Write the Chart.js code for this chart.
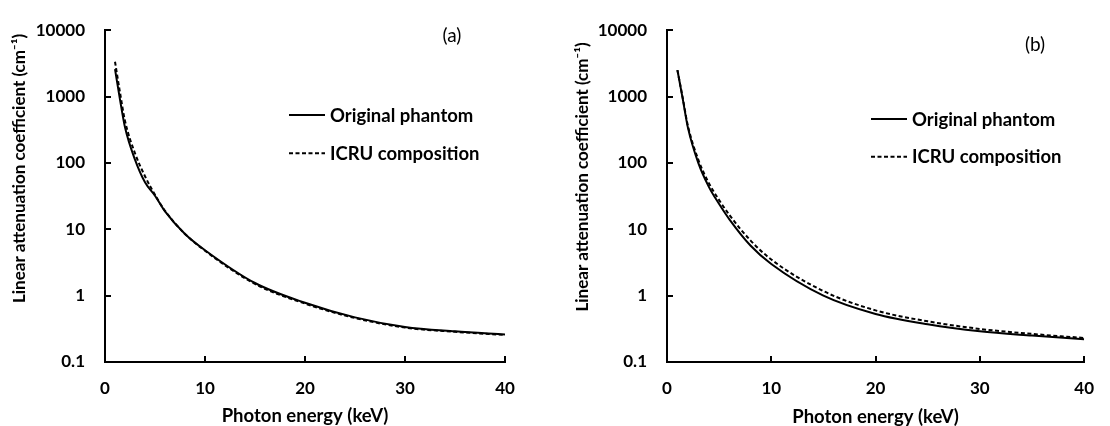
<!DOCTYPE html>
<html><head><meta charset="utf-8">
<script src="https://cdn.jsdelivr.net/npm/chart.js@4.4.1/dist/chart.umd.min.js"></script>
<style>
html,body{margin:0;padding:0;background:#fff;width:1110px;height:426px;overflow:hidden}
canvas{position:absolute;top:0}
#ca{left:0}
#cb{left:555px}
</style></head><body>
<canvas id="ca" width="555" height="426"></canvas>
<canvas id="cb" width="555" height="426"></canvas>
<script>
// ---- data ----
const energies   = [1, 1.5, 2, 3, 4, 5, 6, 8, 10, 15, 20, 25, 30, 35, 40];
const originalA  = [2590, 900, 344, 112, 51, 32, 18.6, 8.5, 4.84, 1.55, 0.78, 0.47, 0.337, 0.29, 0.26];
const icruA      = [3350, 1150, 430, 140, 63, 33, 19, 8.5, 4.75, 1.5, 0.76, 0.46, 0.33, 0.285, 0.255];
const originalB  = [2500, 940, 343, 100, 44, 24, 14, 5.7, 3.0, 1.0, 0.53, 0.37, 0.29, 0.25, 0.22];
const icruB      = [2500, 970, 365, 112, 50, 27.5, 16.3, 6.8, 3.5, 1.17, 0.6, 0.41, 0.315, 0.265, 0.23];
const yTicks     = [0.1, 1, 10, 100, 1000, 10000];
const xTicks     = [0, 10, 20, 30, 40];
const seriesNames = ['Original phantom', 'ICRU composition'];
const panelLabels = ['(a)', '(b)'];
const yTitle = 'Linear attenuation coefficient (cm\u207B\u00B9)';
const xTitle = 'Photon energy (keV)';

const FONT = 'Lato, "Open Sans", sans-serif';

const decor = {
  id: 'decor',
  afterDraw(chart, args, o) {
    const ctx = chart.ctx;
    const ca = chart.chartArea;
    const xs = chart.scales.x, ys = chart.scales.y;
    ctx.save();
    ctx.strokeStyle = '#000';
    ctx.lineWidth = 2;
    // inward tick marks
    ctx.beginPath();
    yTicks.forEach(v => {
      const py = Math.round(ys.getPixelForValue(v));
      ctx.moveTo(ca.left, py); ctx.lineTo(ca.left + 6, py);
    });
    xTicks.forEach(v => {
      const px = Math.round(xs.getPixelForValue(v));
      ctx.moveTo(px, ca.bottom); ctx.lineTo(px, ca.bottom - 6);
    });
    ctx.stroke();

    ctx.fillStyle = '#000';
    // y title
    ctx.font = 'bold 17px ' + FONT;
    ctx.save();
    ctx.translate(o.yTitleX, o.yTitleY);
    ctx.rotate(-Math.PI / 2);
    ctx.textAlign = 'center';
    ctx.textBaseline = 'middle';
    ctx.fillText(yTitle, 0, 0);
    ctx.restore();
    // x title
    ctx.font = 'bold 18.5px ' + FONT;
    ctx.textAlign = 'center';
    ctx.textBaseline = 'alphabetic';
    ctx.fillText(xTitle, (ca.left + ca.right) / 2, o.xTitleY);

    // legend
    const ds = chart.data.datasets;
    [o.legY1, o.legY2].forEach((ly, i) => {
      ctx.save();
      ctx.lineWidth = ds[i].borderWidth;
      ctx.setLineDash(ds[i].borderDash || []);
      ctx.beginPath();
      ctx.moveTo(o.legX0, ly); ctx.lineTo(o.legX1, ly);
      ctx.stroke();
      ctx.restore();
      ctx.textAlign = 'left';
      ctx.textBaseline = 'alphabetic';
      ctx.fillText(ds[i].label, o.legTextX, ly + 6.5);
    });

    // panel label
    ctx.font = '19px ' + FONT;
    ctx.textAlign = 'center';
    ctx.textBaseline = 'middle';
    ctx.fillText(o.label, o.labelX, o.labelY);
    ctx.restore();
  }
};

function makeChart(id, orig, icru, L) {
  const tickFont = {family: FONT, weight: 'bold', size: 17};
  return new Chart(document.getElementById(id), {
    type: 'line',
    data: {
      datasets: [
        {label: seriesNames[0], data: energies.map((e, i) => ({x: e, y: orig[i]})),
         borderColor: '#000', borderWidth: 2, pointRadius: 0, fill: false,
         cubicInterpolationMode: 'monotone'},
        {label: seriesNames[1], data: energies.map((e, i) => ({x: e, y: icru[i]})),
         borderColor: '#000', borderWidth: 2, borderDash: [4, 2.5], pointRadius: 0, fill: false,
         cubicInterpolationMode: 'monotone'}
      ]
    },
    options: {
      responsive: false, animation: false, devicePixelRatio: 1,
      layout: {padding: {left: 0, right: L.padRight, top: 21, bottom: 0}},
      plugins: {legend: {display: false}, tooltip: {enabled: false}, decor: L},
      scales: {
        x: {
          type: 'linear', min: 0, max: 40,
          afterBuildTicks: s => { s.ticks = xTicks.map(v => ({value: v})); },
          afterFit: s => { s.height = 64; },
          grid: {display: false, drawTicks: false},
          border: {display: true, color: '#000', width: 2},
          ticks: {padding: 16, color: '#000', font: tickFont, maxRotation: 0, autoSkip: false,
                  callback: v => String(v)}
        },
        y: {
          type: 'logarithmic', min: 0.1, max: 10000,
          afterBuildTicks: s => { s.ticks = yTicks.map(v => ({value: v})); },
          afterFit: s => { s.width = L.yWidth; },
          grid: {display: false, drawTicks: false},
          border: {display: true, color: '#000', width: 2},
          ticks: {padding: 20, color: '#000', font: tickFont, autoSkip: false,
                  callback: v => String(v)}
        }
      }
    },
    plugins: [decor]
  });
}

makeChart('ca', originalA, icruA, {
  yWidth: 105, padRight: 50, yTitleX: 20, yTitleY: 168.5, xTitleY: 422,
  label: panelLabels[0], labelX: 452, labelY: 36,
  legX0: 289, legX1: 325, legTextX: 330, legY1: 115, legY2: 153.3
});
makeChart('cb', originalB, icruB, {
  yWidth: 112, padRight: 11, yTitleX: 27.5, yTitleY: 177, xTitleY: 423,
  label: panelLabels[1], labelX: 480, labelY: 44.5,
  legX0: 316, legX1: 352, legTextX: 357, legY1: 119, legY2: 156.7
});
</script>
</body></html>
